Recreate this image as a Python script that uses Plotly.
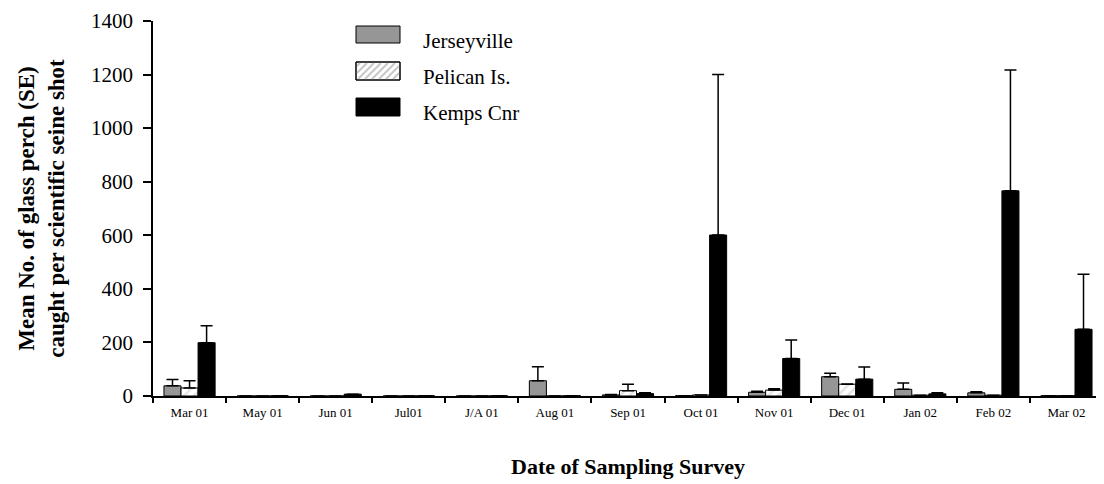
import plotly.graph_objects as go

# Data -------------------------------------------------------------------------
surveys = ["Mar 01", "May 01", "Jun 01", "Jul01", "J/A 01", "Aug 01", "Sep 01",
           "Oct 01", "Nov 01", "Dec 01", "Jan 02", "Feb 02", "Mar 02"]

jerseyville    = [38, 0, 0, 0, 0, 57, 4, 1, 14, 72, 25, 12, 1]
jerseyville_se = [24, 0, 0, 0, 0, 52, 2, 0, 4, 13, 24, 4, 0]

pelican    = [30, 0, 0, 0, 0, 0, 20, 4, 22, 44, 3, 3, 1]
pelican_se = [27, 0, 0, 0, 0, 0, 24, 0, 5, 1, 0, 0, 0]

kemps    = [199, 1, 7, 1, 1, 1, 9, 601, 140, 63, 8, 766, 249]
kemps_se = [63, 0, 0, 0, 0, 0, 3, 599, 69, 45, 4, 451, 206]

y_ticks = [0, 200, 400, 600, 800, 1000, 1200, 1400]

# Settings ---------------------------------------------------------------------
# the page body has an 8px margin, so the figure is a bit smaller than the window
OFF = 8
W, H = 1104 - OFF, 484 - OFF
m_l, m_r, m_t, m_b = 153 - OFF, 1, 21 - OFF, 88
plot_w = W - m_l - m_r
plot_h = H - m_t - m_b

serif = "Liberation Serif, Times New Roman, serif"
grey_fill = "#969696"


# screen pixel (in the 1104x484 window) -> paper coords
def px_x(px):
    return (px - OFF - m_l) / plot_w


def px_y(py):
    return (H - m_b - (py - OFF)) / plot_h


err = dict(type="data", symmetric=False,
           color="black", thickness=1.5, width=6)

fig = go.Figure()

fig.add_trace(go.Bar(
    x=surveys, y=jerseyville, name="Jerseyville",
    marker=dict(color=grey_fill, line=dict(color="black", width=1)),
    error_y=dict(err, array=jerseyville_se), showlegend=False,
))
fig.add_trace(go.Bar(
    x=surveys, y=pelican, name="Pelican Is.",
    marker=dict(color="white", line=dict(color="black", width=1),
                pattern=dict(shape="/", fgcolor="#c8c8c8", bgcolor="white",
                             size=7, solidity=0.35)),
    error_y=dict(err, array=pelican_se), showlegend=False,
))
fig.add_trace(go.Bar(
    x=surveys, y=kemps, name="Kemps Cnr",
    marker=dict(color="black", line=dict(color="black", width=1)),
    error_y=dict(err, array=kemps_se), showlegend=False,
))

# Hand-drawn legend ------------------------------------------------------------
legend_items = [("Jerseyville", grey_fill, 26, 43),
                ("Pelican Is.", "white", 62, 80),
                ("Kemps Cnr", "black", 98, 116)]
box_x0, box_x1 = 356, 400
for label, colour, y0, y1 in legend_items:
    fig.add_shape(type="rect", xref="paper", yref="paper",
                  x0=px_x(box_x0), x1=px_x(box_x1),
                  y0=px_y(y1), y1=px_y(y0),
                  fillcolor=colour, line=dict(color="black", width=1))
    fig.add_annotation(text=label, xref="paper", yref="paper",
                       x=px_x(421), y=px_y((y0 + y1) / 2 + 6),
                       xanchor="left", yanchor="middle", showarrow=False,
                       font=dict(family=serif, size=21, color="black"))

# stripes for the Pelican Is. swatch
sy0, sy1 = 62, 80
segs = []
for k in range(-20, 50, 7):
    xa, xb = box_x0 + k, box_x0 + k + (sy1 - sy0)
    ya, yb = sy1, sy0
    if xa < box_x0:
        ya -= box_x0 - xa
        xa = box_x0
    if xb > box_x1:
        yb += xb - box_x1
        xb = box_x1
    if xa < xb - 1:
        segs.append(f"M{px_x(xa + 1)},{px_y(ya - 1)} L{px_x(xb - 1)},{px_y(yb + 1)}")
fig.add_shape(type="path", xref="paper", yref="paper", path=" ".join(segs),
              line=dict(color="#c8c8c8", width=2))
fig.add_shape(type="rect", xref="paper", yref="paper",
              x0=px_x(box_x0), x1=px_x(box_x1), y0=px_y(sy1), y1=px_y(sy0),
              line=dict(color="black", width=1))

# X axis title
fig.add_annotation(text="<b>Date of Sampling Survey</b>", xref="paper", yref="paper",
                   x=0.5, y=px_y(466), xanchor="center", yanchor="middle",
                   showarrow=False, font=dict(family=serif, size=22, color="black"))

# Layout -----------------------------------------------------------------------
fig.update_layout(
    width=W, height=H,
    margin=dict(l=m_l, r=m_r, t=m_t, b=m_b),
    plot_bgcolor="white", paper_bgcolor="white",
    barmode="group", bargap=0.3, bargroupgap=0,
    font=dict(family=serif, color="black"),
    xaxis=dict(
        type="category", range=[-0.5, len(surveys) - 0.5],
        showline=True, linecolor="black", linewidth=1.5,
        ticks="outside", tickson="boundaries", ticklen=5, tickwidth=1.5,
        tickcolor="black", showgrid=False, ticklabelstandoff=4,
        tickfont=dict(family=serif, size=13),
    ),
    yaxis=dict(
        range=[0, 1400], tickvals=y_ticks,
        showline=True, linecolor="black", linewidth=1.5,
        ticks="outside", ticklen=8, tickwidth=1.5, tickcolor="black",
        showgrid=False, zeroline=False, ticklabelstandoff=6,
        tickfont=dict(family=serif, size=21),
        title=dict(text="<b>Mean No. of glass perch (SE)<br>caught per scientific seine shot</b>",
                   font=dict(family=serif, size=23), standoff=20),
    ),
)

fig.write_html("out.html")
